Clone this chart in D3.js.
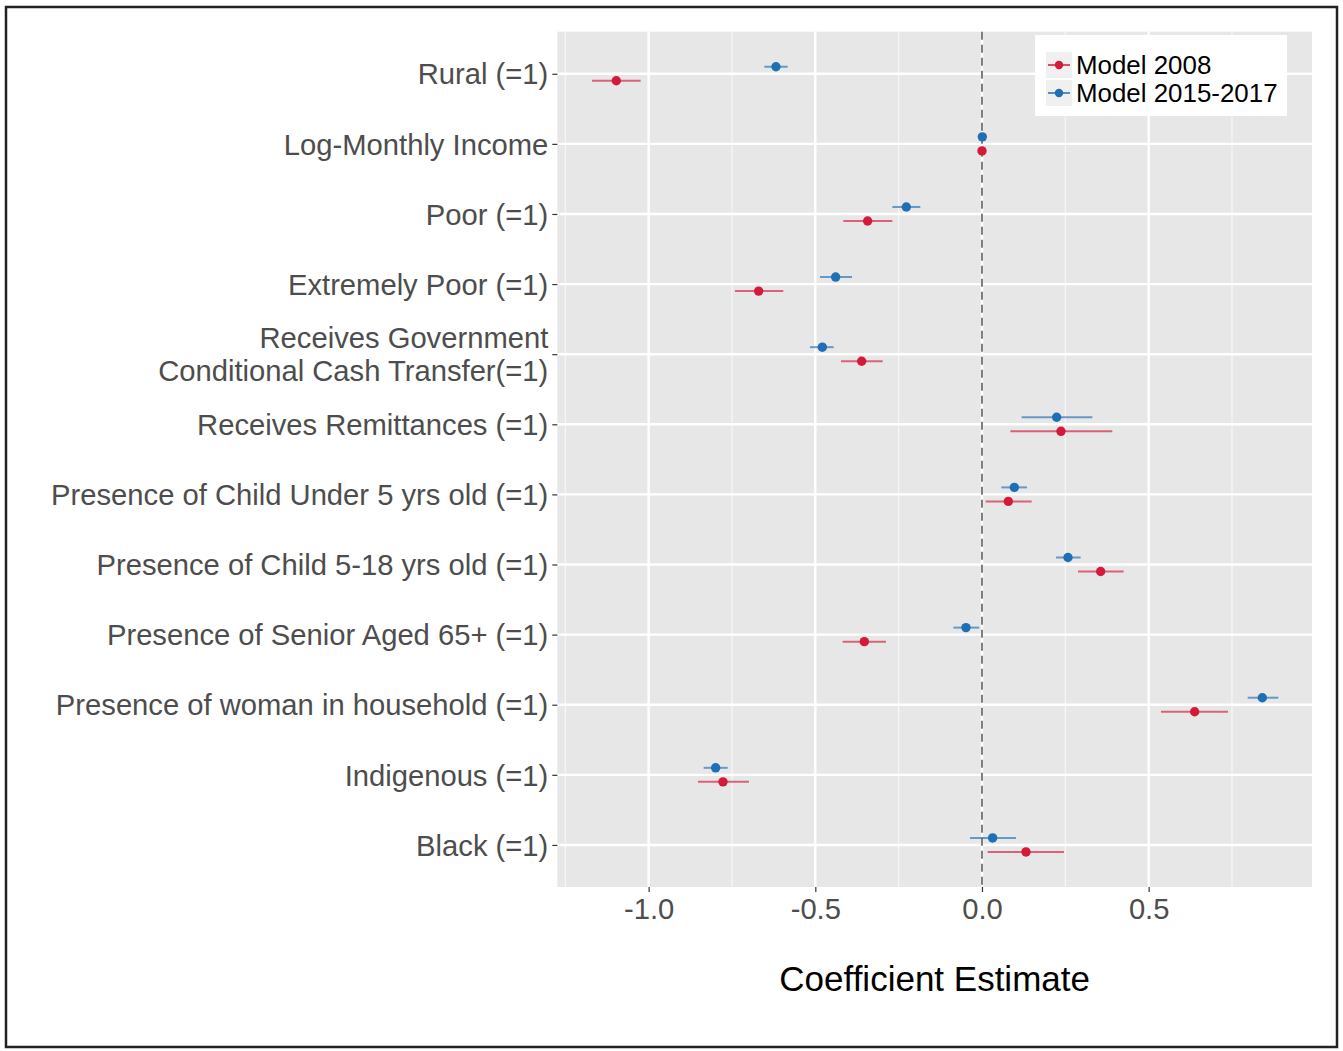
<!DOCTYPE html>
<html>
<head>
<meta charset="utf-8">
<script src="https://cdn.jsdelivr.net/npm/d3@7"></script>
<style>
    body { margin: 0; background: #ffffff; }
    svg { display: block; font-family: "Liberation Sans", Arial, Helvetica, sans-serif; }
</style>
</head>
<body>
<svg id="chart"></svg>
<script>
// variables, top to bottom
const categories = [
    "Rural (=1)",
    "Log-Monthly Income",
    "Poor (=1)",
    "Extremely Poor (=1)",
    "Receives Government\nConditional Cash Transfer(=1)",
    "Receives Remittances (=1)",
    "Presence of Child Under 5 yrs old (=1)",
    "Presence of Child 5-18 yrs old (=1)",
    "Presence of Senior Aged 65+ (=1)",
    "Presence of woman in household (=1)",
    "Indigenous (=1)",
    "Black (=1)"
];

const est2008 = [-1.097, 0.000, -0.343, -0.670, -0.361, 0.237, 0.079, 0.356, -0.353, 0.638, -0.777, 0.132];
const lo2008  = [-1.170, -0.004, -0.416, -0.741, -0.423, 0.085, 0.011, 0.288, -0.418, 0.537, -0.852, 0.017];
const hi2008  = [-1.024, 0.004, -0.269, -0.596, -0.298, 0.391, 0.149, 0.425, -0.288, 0.738, -0.699, 0.246];

const est2015 = [-0.618, 0.001, -0.227, -0.439, -0.479, 0.224, 0.097, 0.258, -0.048, 0.841, -0.799, 0.032];
const lo2015  = [-0.653, -0.003, -0.269, -0.486, -0.516, 0.119, 0.058, 0.222, -0.086, 0.797, -0.835, -0.036];
const hi2015  = [-0.583, 0.005, -0.185, -0.390, -0.445, 0.331, 0.135, 0.296, -0.008, 0.889, -0.763, 0.102];

const xticks = [-1.0, -0.5, 0.0, 0.5];
const xminor = [-1.25, -0.75, -0.25, 0.25, 0.75];
const seriesNames = ["Model 2008", "Model 2015-2017"];

const colors = { "Model 2008": "#d31a3b", "Model 2015-2017": "#1f6fb5" };
const offsets = { "Model 2008": 0.1, "Model 2015-2017": -0.1 };

// long table for drawing
const rows = [];
categories.forEach((c, i) => {
    rows.push({ cat: c, model: "Model 2008", est: est2008[i], lo: lo2008[i], hi: hi2008[i] });
    rows.push({ cat: c, model: "Model 2015-2017", est: est2015[i], lo: lo2015[i], hi: hi2015[i] });
});

const W = 1343, H = 1051;
const margin = { top: 31.7, right: 31, bottom: 164, left: 557.3 };
const inner_width = W - margin.left - margin.right;
const inner_height = H - margin.top - margin.bottom;

const svg = d3.select("#chart")
    .attr("width", W)
    .attr("height", H);

// outer frame
svg.append("rect")
    .attr("x", 6).attr("y", 7)
    .attr("width", 1331).attr("height", 1040)
    .attr("fill", "none")
    .attr("stroke", "#222")
    .attr("stroke-width", 2.5);

const chart = svg.append("g")
    .attr("transform", `translate(${margin.left}, ${margin.top})`);

const xscale = d3.scaleLinear()
    .domain([-1.274, 0.99])
    .range([0, inner_width]);

const yscale = d3.scalePoint()
    .domain(categories)
    .range([0, inner_height])
    .padding(0.6);

const step = yscale.step();

// panel
chart.append("rect")
    .attr("width", inner_width)
    .attr("height", inner_height)
    .attr("fill", "#e7e7e7");

chart.selectAll(".minor")
    .data(xminor)
    .join("line")
    .attr("x1", d => xscale(d)).attr("x2", d => xscale(d))
    .attr("y1", 0).attr("y2", inner_height)
    .attr("stroke", "#f7f7f7")
    .attr("stroke-width", 1.2);

chart.selectAll(".xmajor")
    .data(xticks)
    .join("line")
    .attr("x1", d => xscale(d)).attr("x2", d => xscale(d))
    .attr("y1", 0).attr("y2", inner_height)
    .attr("stroke", "#ffffff")
    .attr("stroke-width", 2.4);

chart.selectAll(".ymajor")
    .data(categories)
    .join("line")
    .attr("x1", 0).attr("x2", inner_width)
    .attr("y1", d => yscale(d)).attr("y2", d => yscale(d))
    .attr("stroke", "#ffffff")
    .attr("stroke-width", 2.4);

// zero reference
chart.append("line")
    .attr("x1", xscale(0)).attr("x2", xscale(0))
    .attr("y1", 0).attr("y2", inner_height)
    .attr("stroke", "#555")
    .attr("stroke-width", 1.5)
    .attr("stroke-dasharray", "8,5");

// error bars
chart.selectAll(".ci")
    .data(rows)
    .join("line")
    .attr("x1", d => xscale(d.lo))
    .attr("x2", d => xscale(d.hi))
    .attr("y1", d => yscale(d.cat) + offsets[d.model] * step)
    .attr("y2", d => yscale(d.cat) + offsets[d.model] * step)
    .attr("stroke", d => colors[d.model])
    .attr("stroke-opacity", 0.65)
    .attr("stroke-width", 2);

// points
chart.selectAll(".pt")
    .data(rows)
    .join("circle")
    .attr("cx", d => xscale(d.est))
    .attr("cy", d => yscale(d.cat) + offsets[d.model] * step)
    .attr("r", 4.7)
    .attr("fill", d => colors[d.model]);

// x axis
const xaxis = d3.axisBottom(xscale)
    .tickValues(xticks)
    .tickFormat(d3.format(".1f"))
    .tickSize(5)
    .tickPadding(6);

const xg = chart.append("g")
    .attr("transform", `translate(0, ${inner_height})`)
    .call(xaxis);
xg.select(".domain").remove();
xg.selectAll(".tick line").attr("stroke", "#333").attr("stroke-width", 1.2);
xg.selectAll(".tick text")
    .attr("fill", "#4d4d4d")
    .attr("font-size", 29.2)
    .attr("font-family", "Liberation Sans, Arial, sans-serif")
    .text(d => d3.format(".1f")(d).replace("−", "-"));

// y axis
const yaxis = d3.axisLeft(yscale)
    .tickSize(5)
    .tickPadding(4)
    .tickFormat("");

const yg = chart.append("g").call(yaxis);
yg.select(".domain").remove();
yg.selectAll(".tick line").attr("stroke", "#333").attr("stroke-width", 1.2);

yg.selectAll(".tick").each(function (d) {
    const lines = d.split("\n");
    const t = d3.select(this).append("text")
        .attr("x", -9)
        .attr("text-anchor", "end")
        .attr("fill", "#4d4d4d")
        .attr("font-size", 29.2);
    lines.forEach((ln, k) => {
        t.append("tspan")
            .attr("x", -9)
            .attr("y", 0)
            .attr("dy", ((k - (lines.length - 1) / 2) * 1.13 + 0.35) + "em")
            .text(ln);
    });
});

// axis title
svg.append("text")
    .attr("x", margin.left + inner_width / 2)
    .attr("y", 991)
    .attr("text-anchor", "middle")
    .attr("font-size", 35)
    .attr("fill", "#000")
    .text("Coefficient Estimate");

// legend
const legend = svg.append("g")
    .attr("transform", "translate(1035, 35)");

legend.append("rect")
    .attr("width", 252)
    .attr("height", 81)
    .attr("fill", "#ffffff");

const item = legend.selectAll(".item")
    .data(seriesNames)
    .join("g")
    .attr("transform", (d, i) => `translate(11, ${17 + i * 28})`);

item.append("rect")
    .attr("width", 26).attr("height", 26)
    .attr("fill", "#f0f0f0");

item.append("line")
    .attr("x1", 2).attr("x2", 24)
    .attr("y1", 13).attr("y2", 13)
    .attr("stroke", d => colors[d])
    .attr("stroke-width", 1.5);

item.append("circle")
    .attr("cx", 13).attr("cy", 13)
    .attr("r", 4.2)
    .attr("fill", d => colors[d]);

item.append("text")
    .attr("x", 30)
    .attr("y", 13)
    .attr("dy", "0.36em")
    .attr("font-size", 25.9)
    .attr("fill", "#000")
    .text(d => d);
</script>
</body>
</html>
